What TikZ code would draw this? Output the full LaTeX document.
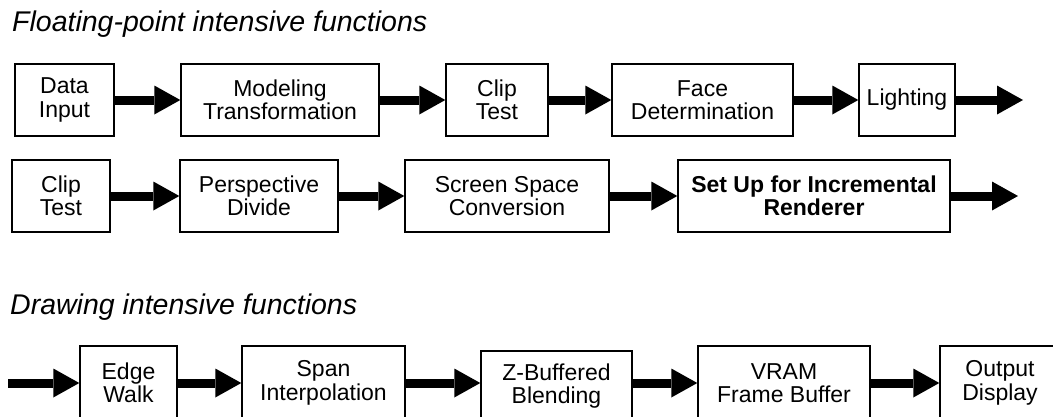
\documentclass[tikz,border=0pt]{standalone}
\usepackage{fontspec}
\setmainfont{Liberation Sans}
\usetikzlibrary{arrows.meta}
\begin{document}
\begin{tikzpicture}[x=1pt,y=-1pt,
  box/.style={draw, line width=1.4pt, inner sep=0pt, align=center, minimum height=72pt, font=\fontsize{23}{23.5}\selectfont},
  title/.style={anchor=base west, inner sep=0pt, font=\fontsize{28.5}{30}\selectfont\itshape},
  fat/.style={line width=9pt, -{Triangle[length=26pt,width=29pt,line width=0pt]}}]
\useasboundingbox (0,0) rectangle (1053,416);
\clip (0,0) rectangle (1053,416);
\fill[white] (0,0) rectangle (1053,416);

% titles
\node[title] (t1) at (12,31) {Floating-point intensive functions};
\node[title] (t2) at (10,314) {Drawing intensive functions};

% row 1
\node[box, minimum width=99pt]  (din)   at (64.5,100)  {Data\\Input};
\node[box, minimum width=198pt] (model) at (280,100)   {Modeling\\Transformation};
\node[box, minimum width=102pt] (clipa) at (497,100)   {Clip\\Test};
\node[box, minimum width=181pt] (face)  at (702.5,100) {Face\\Determination};
\node[box, minimum width=96pt]  (light) at (907,100)   {Lighting};
\coordinate (enda) at (1023,100);

\draw[fat] (din) -- (model);
\draw[fat] (model) -- (clipa);
\draw[fat] (clipa) -- (face);
\draw[fat] (face) -- (light);
\draw[fat] (light) -- (enda);

% row 2
\node[box, minimum width=98pt]  (clipb)  at (61,196)  {Clip\\Test};
\node[box, minimum width=158pt] (persp)  at (259,196) {Perspective\\Divide};
\node[box, minimum width=204pt] (screen) at (507,196) {Screen Space\\Conversion};
\node[box, minimum width=272pt] (setup)  at (814,196) {\bfseries Set Up for Incremental\\\bfseries Renderer};
\coordinate (endb) at (1018,196);

\draw[fat] (clipb) -- (persp);
\draw[fat] (persp) -- (screen);
\draw[fat] (screen) -- (setup);
\draw[fat] (setup) -- (endb);

% row 3 (boxes run past the lower edge)
\coordinate (startc) at (8,383);
\node[box, minimum width=97pt,  minimum height=74pt] (edge) at (128.5,383) {Edge\\Walk};
\node[box, minimum width=163pt, minimum height=74pt] (span) at (323.5,383) {Span\\Interpolation};
\node[box, minimum width=151pt, minimum height=70pt] (zbuf) at (556.5,386) {Z-Buffered\\Blending};
\node[box, minimum width=172pt, minimum height=74pt] (vram) at (784,383) {VRAM\\Frame Buffer};
\node[box, minimum width=120pt, minimum height=74pt] (outd) at (1000,383) {Output\\Display};

\draw[fat] (startc) -- (edge);
\draw[fat] (edge) -- (span);
\draw[fat] (span.east) -- (span.east -| zbuf.west);
\draw[fat] (zbuf.east |- vram.west) -- (vram.west);
\draw[fat] (vram) -- (outd);
\end{tikzpicture}
\end{document}
